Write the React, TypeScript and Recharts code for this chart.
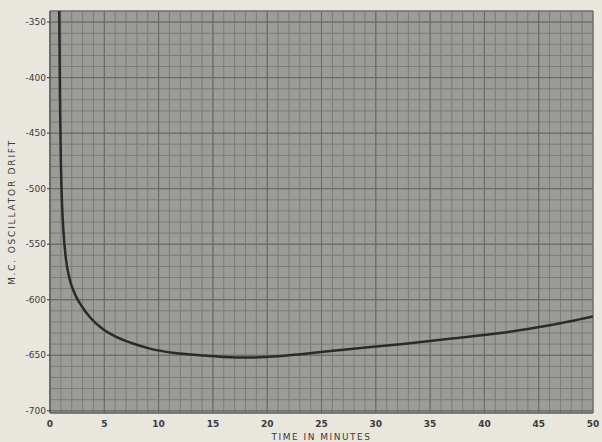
import { LineChart, Line, XAxis, YAxis, CartesianGrid } from "recharts";

// minutes vs oscillator drift
const minutes = [0.85, 0.92, 1.0, 1.1, 1.25, 1.45, 1.8, 2.3, 3.0, 3.7, 4.8, 6.2, 7.5, 9.2, 11.5, 13.8, 16, 18.5, 21, 23.1, 27, 32.3, 37, 41.5, 46, 50];
const drift = [-340, -420, -475, -512, -540, -562, -581, -595, -607, -616, -626, -634, -639, -644, -648, -650, -651.5, -652, -651, -649, -645, -640, -635, -630, -623, -615];

const xTicks = [0, 5, 10, 15, 20, 25, 30, 35, 40, 45, 50];
const yTicks = [-350, -400, -450, -500, -550, -600, -650, -700];

const data = minutes.map((t, i) => ({ t, v: drift[i] }));

const fineX = Array.from({ length: 51 }, (_, i) => i);
const fineY = Array.from({ length: 37 }, (_, i) => -700 + i * 10);

const scaleOf = (axis: any, v: number) => {
  const s = axis?.scale;
  if (typeof s === "function") return s(v);
  if (s && typeof s.map === "function") return s.map(v);
  return NaN;
};

const ink = "#3a3a38";

export default function App() {
  return (
    <div style={{ width: 602, height: 442, background: "#e9e6de" }}>
      <style>{`body{margin:0}`}</style>
      <LineChart
        width={602}
        height={442}
        data={data}
        margin={{ top: 11, right: 9, bottom: 0, left: 0 }}
      >
        <CartesianGrid
          fill="#9b9b97"
          stroke="#7b7b78"
          strokeWidth={1}
          verticalCoordinatesGenerator={({ xAxis }: any) =>
            fineX.map((v) => scaleOf(xAxis, v)).filter((n) => !isNaN(n))
          }
          horizontalCoordinatesGenerator={({ yAxis }: any) =>
            fineY.map((v) => scaleOf(yAxis, v)).filter((n) => !isNaN(n))
          }
        />
        <CartesianGrid stroke="#686865" strokeWidth={1} />
        <XAxis
          dataKey="t"
          type="number"
          domain={[0, 50]}
          ticks={xTicks}
          allowDataOverflow
          axisLine={{ stroke: "#5a5a58", strokeWidth: 1.2 }}
          tickLine={false}
          tickMargin={2}
          height={29}
          tick={{ fill: ink, fontSize: 9, fontFamily: "DejaVu Sans", fontWeight: "bold" }}
          label={{
            value: "TIME IN MINUTES",
            position: "insideBottom",
            offset: 2,
            fill: ink,
            fontSize: 9,
            letterSpacing: 1.5,
            fontFamily: "DejaVu Sans",
          }}
        />
        <YAxis
          type="number"
          domain={[-702, -340]}
          ticks={yTicks}
          allowDataOverflow
          width={50}
          axisLine={{ stroke: "#5a5a58", strokeWidth: 1.2 }}
          tickLine={{ stroke: ink }}
          tickSize={3}
          tickMargin={1}
          tick={{ fill: ink, fontSize: 9, fontFamily: "DejaVu Sans" }}
          label={{
            value: "M.C. OSCILLATOR DRIFT",
            angle: -90,
            position: "insideLeft",
            offset: 12,
            style: { textAnchor: "middle" },
            fill: ink,
            fontSize: 9,
            letterSpacing: 1.8,
            fontFamily: "DejaVu Sans",
          }}
        />
        <Line
          dataKey="v"
          type="monotone"
          stroke="#2a2a28"
          strokeWidth={2.5}
          dot={false}
          isAnimationActive={false}
        />
      </LineChart>
    </div>
  );
}
